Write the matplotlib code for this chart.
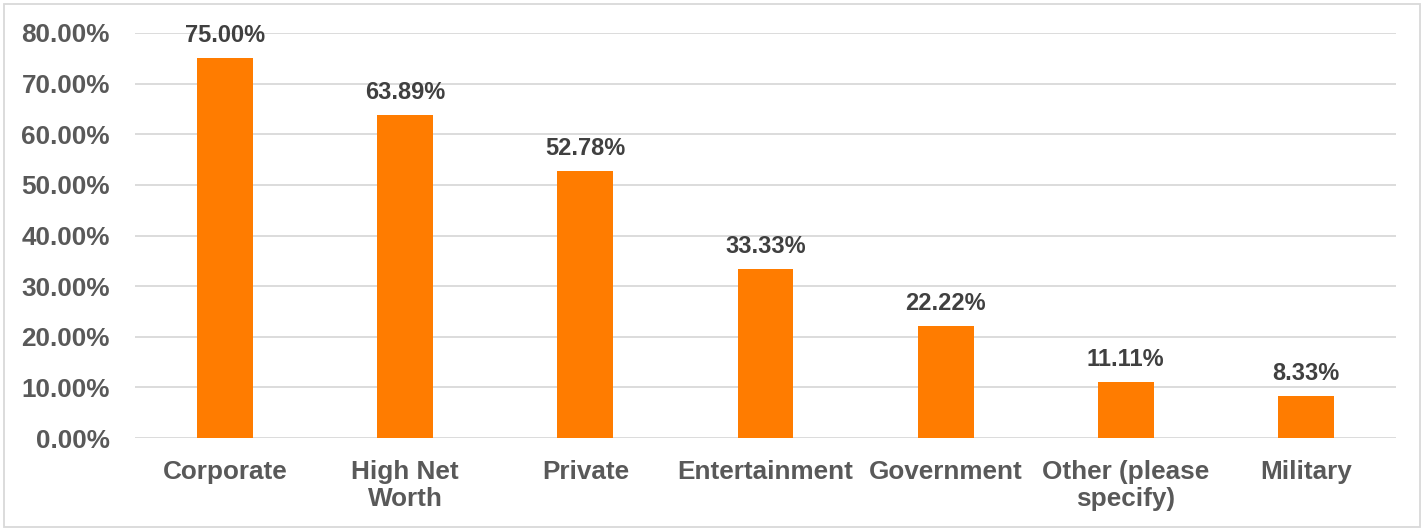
import matplotlib
matplotlib.use("Agg")
import matplotlib.pyplot as plt
from matplotlib.patches import Rectangle
from matplotlib.ticker import FuncFormatter, MultipleLocator

# === DATA ===
categories = ["Corporate", "High Net\nWorth", "Private", "Entertainment",
              "Government", "Other (please\nspecify)", "Military"]
values = [75.00, 63.89, 52.78, 33.33, 22.22, 11.11, 8.33]

plt.rcParams['font.family'] = ['Liberation Sans', 'DejaVu Sans']
plt.rcParams['font.weight'] = 'bold'

# === FIGURE ===
fig = plt.figure(figsize=(14.24, 5.31), dpi=100)
ax = fig.add_axes([135 / 1424, 1 - 438 / 531, (1396 - 135) / 1424, (438 - 33) / 531])

bars = ax.bar(range(len(categories)), values, width=0.31, color="#FF7C00", zorder=3)

ax.set_xlim(-0.5, len(categories) - 0.5)
ax.set_ylim(0, 80)
ax.yaxis.set_major_locator(MultipleLocator(10))
ax.yaxis.set_major_formatter(FuncFormatter(lambda v, p: f"{v:.2f}%"))
ax.grid(axis='y', color="#D9D9D9", linewidth=1.3, zorder=0)

ax.set_xticks(range(len(categories)))
ax.set_xticklabels(categories, linespacing=1.15)
ax.tick_params(axis='x', length=0, pad=16, labelsize=18.8, labelcolor="#595959")
ax.tick_params(axis='y', length=0, pad=18, labelsize=18.8, labelcolor="#595959")

for s in ax.spines.values():
    s.set_visible(False)

# data labels
for b, v in zip(bars, values):
    ax.annotate(f"{v:.2f}%", (b.get_x() + b.get_width() / 2, v),
                xytext=(0, 11.5), textcoords="offset points",
                ha='center', va='baseline', fontsize=17, color="#404040",
                fontweight='bold')

# outer chart border
fig.patches.append(Rectangle((4 / 1424, 4 / 531), 1 - 8 / 1424, 1 - 8 / 531,
                             transform=fig.transFigure, fill=False,
                             edgecolor="#D9D9D9", linewidth=1.3))

fig.savefig("out.png", dpi=100)
